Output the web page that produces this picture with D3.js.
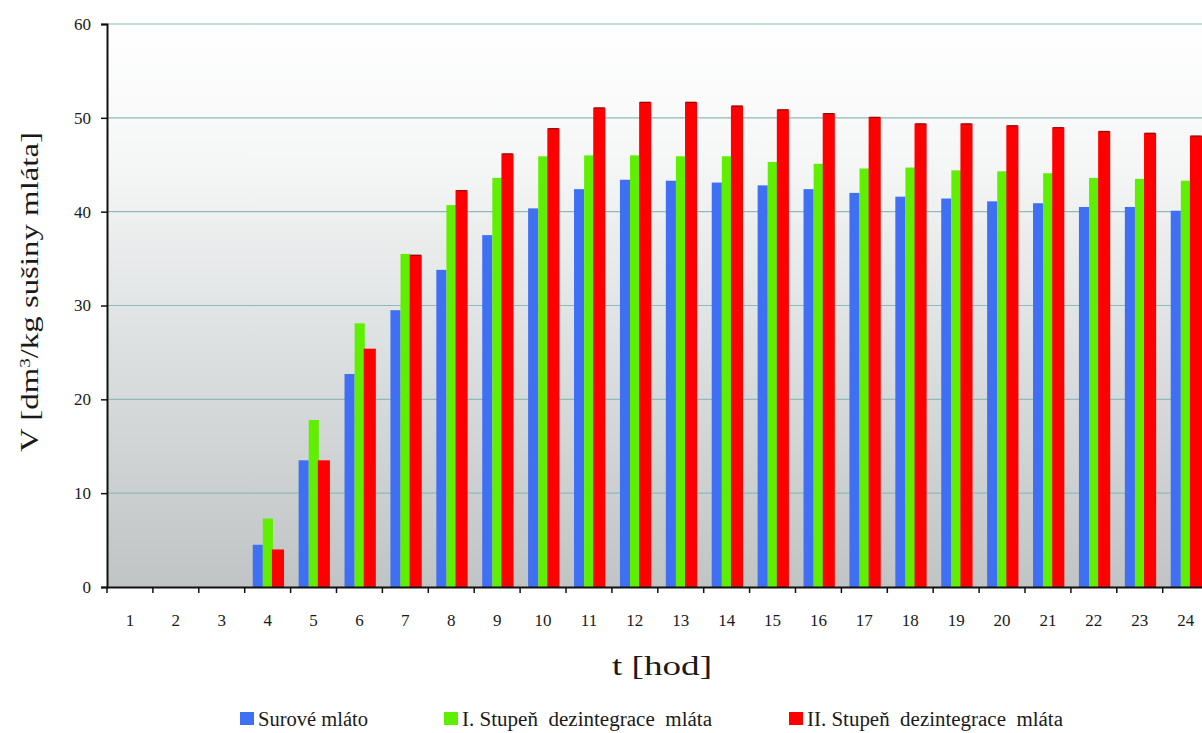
<!DOCTYPE html>
<html>
<head>
<meta charset="utf-8">
<script src="https://cdn.jsdelivr.net/npm/d3@7"></script>
<style>
  html, body { margin: 0; padding: 0; background: #ffffff; }
  svg { display: block; }
  svg text { font-family: 'Liberation Serif', 'Times New Roman', 'DejaVu Serif', serif; fill: #1a1a1a; }
</style>
</head>
<body>
<svg id="chart" width="1202" height="733"></svg>
<script>
// Hours of the fermentation run
const hours = ["1","2","3","4","5","6","7","8","9","10","11","12","13","14","15","16","17","18","19","20","21","22","23","24"];

// Cumulative gas volume per series [dm3/kg dry matter]
const surove = [0, 0, 0, 4.5, 13.5, 22.7, 29.5, 33.8, 37.5, 40.35, 42.4, 43.4, 43.3, 43.1, 42.8, 42.4, 42.0, 41.6, 41.4, 41.1, 40.9, 40.5, 40.5, 40.1];
const stupen1 = [0, 0, 0, 7.3, 17.8, 28.1, 35.5, 40.7, 43.6, 45.9, 46.0, 46.0, 45.9, 45.9, 45.3, 45.1, 44.6, 44.7, 44.4, 44.3, 44.1, 43.6, 43.5, 43.3];
const stupen2 = [0, 0, 0, 4.0, 13.5, 25.4, 35.4, 42.3, 46.2, 48.9, 51.1, 51.7, 51.7, 51.3, 50.9, 50.5, 50.1, 49.4, 49.4, 49.2, 49.0, 48.6, 48.4, 48.1];

const seriesNames = ["Surové mláto", "I. Stupeň  dezintegrace  mláta", "II. Stupeň  dezintegrace  mláta"];
const seriesColors = ["#3f6ff2", "#5ef000", "#ff0000"];
const yTicks = [0, 10, 20, 30, 40, 50, 60];

const seriesValues = [surove, stupen1, stupen2];
const SERIF = "'Liberation Serif', 'Times New Roman', 'DejaVu Serif', serif";

const svg = d3.select("#chart");
const plot = { left: 107, top: 24, bottom: 587, band: 45.9 };
const plotRight = plot.left + plot.band * hours.length;

const x = d3.scaleBand().domain(hours).range([plot.left, plotRight]).padding(0);
const x1 = d3.scaleBand().domain(d3.range(3)).range([x.bandwidth() * 0.175, x.bandwidth() * 0.835]).padding(0);
const y = d3.scaleLinear().domain([0, 60]).range([plot.bottom, plot.top]);

// Plot area background: white at top fading to grey at the base
const defs = svg.append("defs");
const grad = defs.append("linearGradient").attr("id", "bg").attr("x1", 0).attr("y1", 0).attr("x2", 0).attr("y2", 1);
grad.append("stop").attr("offset", "0%").attr("stop-color", "#ffffff");
grad.append("stop").attr("offset", "25%").attr("stop-color", "#f5f6f6");
grad.append("stop").attr("offset", "60%").attr("stop-color", "#dadede");
grad.append("stop").attr("offset", "100%").attr("stop-color", "#c0c4c4");

svg.append("rect")
  .attr("x", plot.left).attr("y", plot.top)
  .attr("width", plotRight - plot.left).attr("height", plot.bottom - plot.top)
  .attr("fill", "url(#bg)");

// Horizontal gridlines
svg.append("g").selectAll("line")
  .data(yTicks.filter(d => d > 0))
  .join("line")
  .attr("x1", plot.left).attr("x2", plotRight)
  .attr("y1", d => y(d)).attr("y2", d => y(d))
  .attr("stroke", "#8fb9bb").attr("stroke-width", 1.2);

// Bars
const groups = svg.append("g").selectAll("g")
  .data(hours.map((h, i) => ({ h, vals: seriesValues.map(s => s[i]) })))
  .join("g")
  .attr("transform", d => `translate(${x(d.h)},0)`);

groups.selectAll("rect")
  .data(d => d.vals.map((v, k) => ({ v, k })).filter(e => e.v > 0))
  .join("rect")
  .attr("x", e => x1(e.k) - (e.k === 2 ? 1 : 0))
  .attr("width", e => x1.bandwidth() + (e.k === 2 ? 2 : 0))
  .attr("y", e => y(e.v))
  .attr("height", e => y(0) - y(e.v))
  .attr("fill", e => seriesColors[e.k]);

// Dark cap on the tall red bars
groups.selectAll("line.cap")
  .data(d => d.vals.map((v, k) => ({ v, k })).filter(e => e.k === 2 && e.v > 30))
  .join("line")
  .attr("class", "cap")
  .attr("x1", e => x1(e.k)).attr("x2", e => x1(e.k) + x1.bandwidth())
  .attr("y1", e => y(e.v) + 0.5).attr("y2", e => y(e.v) + 0.5)
  .attr("stroke", "#8a1010").attr("stroke-width", 1.2);

// Y axis
const yAxis = svg.append("g")
  .attr("transform", `translate(${plot.left},0)`)
  .call(d3.axisLeft(y).tickValues(yTicks).tickSize(6).tickPadding(10).tickFormat(d3.format("d")));
yAxis.attr("font-family", SERIF);
yAxis.select(".domain").attr("stroke", "#111").attr("stroke-width", 2);
yAxis.selectAll(".tick line").attr("stroke", "#111").attr("stroke-width", 1.5);
yAxis.selectAll("text").style("font-size", "17px").style("font-family", SERIF).attr("fill", "#222");

// X axis
const xAxis = svg.append("g")
  .attr("transform", `translate(0,${plot.bottom})`)
  .call(d3.axisBottom(x).tickSize(0).tickPadding(27));
xAxis.attr("font-family", SERIF);
xAxis.select(".domain").attr("stroke", "#111").attr("stroke-width", 2);
xAxis.selectAll("text").style("font-size", "17px").style("font-family", SERIF).attr("fill", "#222");

// Tick marks at the category boundaries
svg.append("g").selectAll("line")
  .data(hours.map(h => x(h)))
  .join("line")
  .attr("x1", d => d).attr("x2", d => d)
  .attr("y1", plot.bottom).attr("y2", plot.bottom + 6)
  .attr("stroke", "#111").attr("stroke-width", 1.5);

// Axis titles
svg.append("text")
  .attr("x", 612).attr("y", 675)
  .attr("textLength", 100)
  .attr("lengthAdjust", "spacingAndGlyphs")
  .style("font-family", SERIF)
  .style("font-size", "27px")
  .text("t [hod]");

const yTitle = svg.append("text")
  .attr("transform", "translate(38,452) rotate(-90)")
  .attr("textLength", 320)
  .attr("lengthAdjust", "spacingAndGlyphs")
  .style("font-family", SERIF)
  .style("font-size", "26px");
yTitle.append("tspan").text("V [dm");
yTitle.append("tspan").attr("baseline-shift", "super").style("font-size", "15px").text("3");
yTitle.append("tspan").text("/kg sušiny mláta]");

// Legend
const legendX = [240, 444, 789];
const legendW = [110, 250, 256];
const legend = svg.append("g").selectAll("g")
  .data(seriesNames)
  .join("g")
  .attr("transform", (d, i) => `translate(${legendX[i]},726)`);
legend.append("rect")
  .attr("x", 0).attr("y", -14).attr("width", 14).attr("height", 13)
  .attr("fill", (d, i) => seriesColors[i]);
legend.append("text")
  .attr("x", 18).attr("y", 0)
  .attr("textLength", (d, i) => legendW[i])
  .attr("lengthAdjust", "spacingAndGlyphs")
  .style("font-family", SERIF)
  .style("font-size", "20px")
  .attr("xml:space", "preserve")
  .text(d => d);
</script>
</body>
</html>
